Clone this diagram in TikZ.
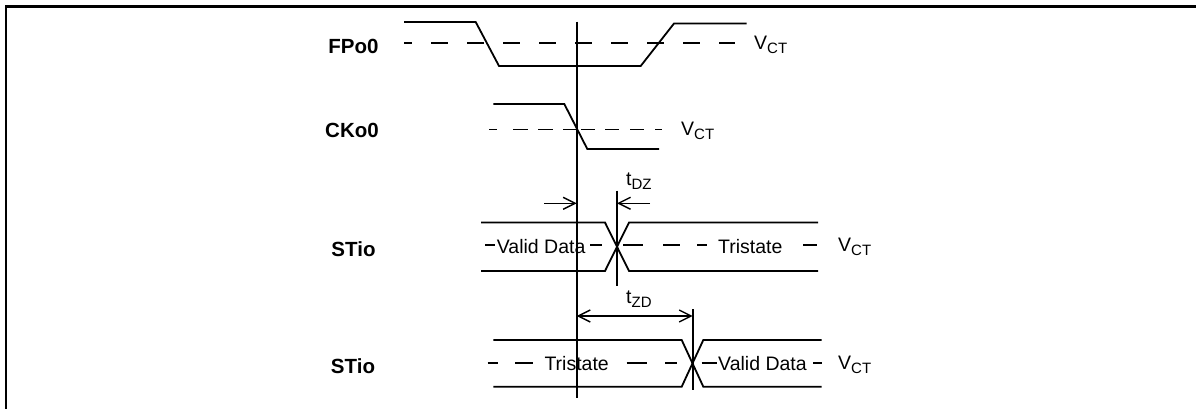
\documentclass[tikz,border=0pt]{standalone}
\usepackage{fontspec}
\setmainfont{Liberation Sans}
\usetikzlibrary{arrows.meta}
\newcommand{\subt}[1]{\raisebox{-4pt}{\fontsize{15}{15}\selectfont #1}}
\begin{document}
\begin{tikzpicture}[x=1pt,y=-1pt,
  wave/.style={line width=1.8pt},
  dsh/.style={line width=1.8pt},
  lbl/.style={font=\fontsize{20.5}{21}\selectfont\bfseries, anchor=base, inner sep=0pt},
  txt/.style={font=\fontsize{19.5}{21}\selectfont, anchor=base west, inner sep=0pt},
  vtxt/.style={font=\fontsize{19.5}{21}\selectfont, anchor=base west, inner sep=0pt},
  dimarrow/.style={line width=1.4pt, -{Straight Barb[length=12pt,width=12pt]}},
  dimboth/.style={line width=1.4pt, {Straight Barb[length=12pt,width=12pt]}-{Straight Barb[length=12pt,width=12pt]}}]
\useasboundingbox (0,0) rectangle (1196,409);
% frame
\draw[line width=2.8pt] (6,409) -- (6,6.7) -- (1196,6.7);

% labels
\node[lbl] (lf) at (353.5,53.3) {FPo0};
\node[lbl] (lc) at (352,138) {CKo0};
\node[lbl] (ls1) at (353.5,256.7) {STio};
\node[lbl] (ls2) at (353,373) {STio};

% FPo0
\draw[wave] (404,22) -- (475.7,22) -- (499,66) -- (640.7,66) -- (674,23.5) -- (746.7,23.5);
\draw[dsh, dash pattern=on 17pt off 19pt, dash phase=9pt] (404,43.3) -- (735,43.3);
\node[vtxt] (v1) at (754,49.5) {V\subt{CT}};

% CKo0
\draw[wave] (493.3,104) -- (564.3,104) -- (587.3,149) -- (659,149);
\foreach \a/\b in {489/497,513/528,538/553,563/576,581/595,605/619,630/644,655/662}
  \draw[dsh] (\a,129.5) -- (\b,129.5);
\node[vtxt] (v2) at (681,135.5) {V\subt{CT}};

% main vertical
\coordinate (mt) at (576.7,21.7);
\coordinate (mb) at (576.7,398.3);
\draw[wave] (mt) -- (mb);

% STio row 1
\draw[wave] (481,222.5) -- (605,222.5) -- (629,271) -- (818,271);
\draw[wave] (481,271) -- (605,271) -- (629,222.5) -- (818,222.5);
\foreach \a/\b in {485/495,590/602,623/643,663/680,697/707,803/817}
  \draw[dsh] (\a,245) -- (\b,245);
\node[txt] (vd1) at (496.7,253) {Valid Data};
\node[txt] (ts1) at (718,253) {Tristate};
\node[vtxt] (v3) at (838,251) {V\subt{CT}};

% tDZ
\coordinate (dzt) at (617,190.7);
\coordinate (dzb) at (617,286);
\draw[wave] (dzt) -- (dzb);
\coordinate (a1s) at (544.3,203.3);
\coordinate (a1e) at (576.7,203.3);
\coordinate (a2s) at (650,203.3);
\coordinate (a2e) at (617,203.3);
\draw[dimarrow] (a1s) -- (a1e);
\draw[dimarrow] (a2s) -- (a2e);
\node[vtxt] (tdz) at (626,185) {t\subt{DZ}};

% STio row 2
\draw[wave] (493.3,340) -- (681.7,340) -- (703.3,386.7) -- (821.7,386.7);
\draw[wave] (493.3,386.7) -- (681.7,386.7) -- (703.3,340) -- (821.7,340);
\foreach \a/\b in {487.7/498.3,515/533.3,626.7/646.7,665/677.3,701.7/716.7,813/822}
  \draw[dsh] (\a,363.3) -- (\b,363.3);
\node[txt] (ts2) at (544.3,370) {Tristate};
\node[txt] (vd2) at (718,370) {Valid Data};
\node[vtxt] (v4) at (838,369.3) {V\subt{CT}};

% tZD
\coordinate (zdt) at (692.7,309.3);
\coordinate (zdb) at (692.7,390);
\draw[wave] (zdt) -- (zdb);
\coordinate (b1) at (576.7,316);
\coordinate (b2) at (692.7,316);
\draw[dimboth] (b1) -- (b2);
\node[vtxt] (tzd) at (626,303) {t\subt{ZD}};
\end{tikzpicture}
\end{document}
